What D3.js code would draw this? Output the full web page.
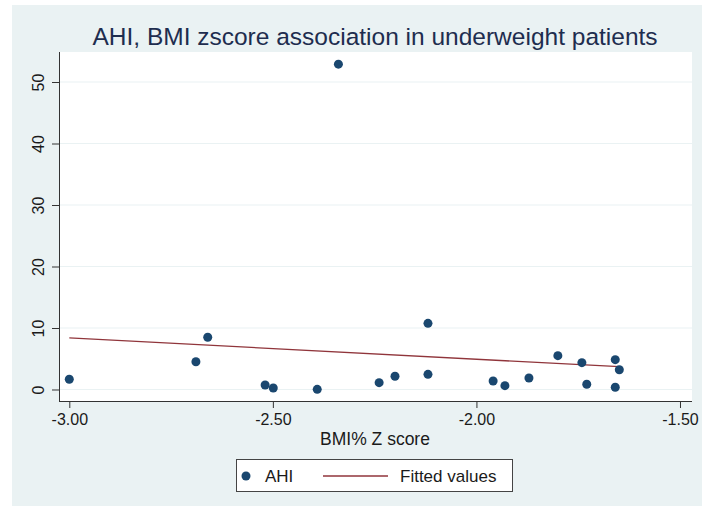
<!DOCTYPE html>
<meta charset="utf-8">
<style>
body { margin: 0; background: #fff; }
text { font-family: "Liberation Sans", Arial, sans-serif; fill: #1a1a1a; }
.grid line { stroke: #eaf2f3; stroke-width: 1.2; }
</style>
<svg width="714" height="506"></svg>
<script src="https://d3js.org/d3.v7.min.js"></script>
<script>

// BMI% z score and AHI, one entry per patient
var bmiZ = [-3.00, -2.689, -2.660, -2.519, -2.499, -2.391, -2.339, -2.239, -2.200, -2.119,
            -2.119, -1.959, -1.930, -1.871, -1.800, -1.741, -1.729, -1.659, -1.649, -1.659];
var ahi  = [1.66, 4.52, 8.49, 0.73, 0.24, 0.03, 52.9, 1.11, 2.15, 10.76,
            2.47, 1.38, 0.62, 1.87, 5.50, 4.36, 0.85, 4.85, 3.22, 0.36];

var xTicks = [-3, -2.5, -2, -1.5];
var yTicks = [0, 10, 20, 30, 40, 50];

var svg = d3.select("svg");

var navy = "#1a476f", maroon = "#90353b";

// graph region
svg.append("rect")
    .attr("x", 12).attr("y", 5).attr("width", 690).attr("height", 501)
    .attr("fill", "#eaf2f3");

// plot region
svg.append("rect")
    .attr("x", 59).attr("y", 52).attr("width", 633).attr("height", 349)
    .attr("fill", "#fff");

var x = d3.scaleLinear().domain([-3.0253, -1.4705]).range([59, 692]);
var y = d3.scaleLinear().domain([-1.87, 54.88]).range([401, 52]);

var data = bmiZ.map(function(d, i) { return {x: d, y: ahi[i]}; });

// grid
svg.append("g")
    .attr("class", "grid")
    .selectAll("line")
    .data(yTicks)
    .enter().append("line")
      .attr("x1", 59).attr("x2", 692)
      .attr("y1", function(d) { return y(d); })
      .attr("y2", function(d) { return y(d); });

// axes, with a plain hyphen for the minus sign as in the original
var fmt = function(d) { return d3.format(".2f")(d).replace("\u2212", "-"); };

var xAxis = svg.append("g")
    .attr("transform", "translate(0,401)")
    .call(d3.axisBottom(x).tickValues(xTicks).tickFormat(fmt).tickSize(7).tickPadding(6));

var yAxis = svg.append("g")
    .attr("transform", "translate(59,0)")
    .call(d3.axisLeft(y).tickValues(yTicks).tickSize(7).tickPadding(5));

xAxis.select(".domain").attr("d", "M59,0.5H692").attr("stroke", "#333");
yAxis.select(".domain").attr("d", "M0.5,52V401").attr("stroke", "#333");

svg.selectAll(".tick line").attr("stroke", "#333");
svg.selectAll(".tick text")
    .style("font-family", "Liberation Sans, Arial, sans-serif")
    .style("font-size", "16px")
    .attr("fill", "#1a1a1a");

yAxis.selectAll(".tick text")
    .attr("text-anchor", "middle")
    .attr("transform", "rotate(-90)")
    .attr("x", 0)
    .attr("dy", 0)
    .attr("y", -15);

// least-squares fit
var mx = d3.mean(data, function(d) { return d.x; }),
    my = d3.mean(data, function(d) { return d.y; });
var slope = d3.sum(data, function(d) { return (d.x - mx) * (d.y - my); }) /
            d3.sum(data, function(d) { return (d.x - mx) * (d.x - mx); });
var icpt = my - slope * mx;
var ext = d3.extent(bmiZ);

svg.append("line")
    .attr("x1", x(ext[0])).attr("y1", y(icpt + slope * ext[0]))
    .attr("x2", x(ext[1])).attr("y2", y(icpt + slope * ext[1]))
    .attr("stroke", maroon)
    .attr("stroke-width", 1.3);

svg.append("g")
  .selectAll("circle")
  .data(data)
  .enter().append("circle")
    .attr("cx", function(d) { return x(d.x); })
    .attr("cy", function(d) { return y(d.y); })
    .attr("r", 4.5)
    .attr("fill", navy);

// titles
svg.append("text")
    .attr("x", 375).attr("y", 45)
    .attr("text-anchor", "middle")
    .style("font-size", "24.5px")
    .style("fill", "#1e2d4f")
    .text("AHI, BMI zscore association in underweight patients");

svg.append("text")
    .attr("x", 375).attr("y", 445)
    .attr("text-anchor", "middle")
    .style("font-size", "17.5px")
    .text("BMI% Z score");

// legend
var legend = svg.append("g");
legend.append("rect")
    .attr("x", 236.5).attr("y", 459.5).attr("width", 276).attr("height", 32)
    .attr("fill", "#fff").attr("stroke", "#444").attr("stroke-width", 1);
legend.append("circle")
    .attr("cx", 246).attr("cy", 476).attr("r", 4.5).attr("fill", navy);
legend.append("text")
    .attr("x", 265).attr("y", 482)
    .style("font-size", "17px")
    .text("AHI");
legend.append("line")
    .attr("x1", 323).attr("x2", 388).attr("y1", 476).attr("y2", 476)
    .attr("stroke", maroon).attr("stroke-width", 1.3);
legend.append("text")
    .attr("x", 400).attr("y", 482)
    .style("font-size", "17px")
    .text("Fitted values");

</script>
